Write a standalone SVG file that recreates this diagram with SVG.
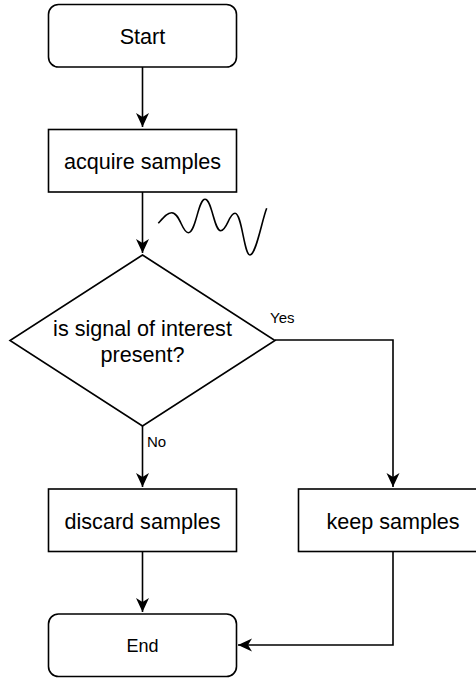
<svg xmlns="http://www.w3.org/2000/svg" width="476" height="679" viewBox="0 0 476 679">
<style>
.box{fill:#fff;stroke:#000;stroke-width:1.6}
.edge{fill:none;stroke:#000;stroke-width:1.6}
.t{font-family:"Liberation Sans",Arial,sans-serif;font-size:21.6px;fill:#000;text-anchor:middle}
.lbl{font-family:"Liberation Sans",Arial,sans-serif;font-size:15px;fill:#000}
</style>
<defs>
<marker id="arr" markerUnits="userSpaceOnUse" markerWidth="16" markerHeight="14" refX="14" refY="7" orient="auto">
<path d="M0,0.5 L14,7 L0,13.5 L4,7 Z" fill="#000"/>
</marker>
</defs>
<g id="connectors">
<path class="edge" d="M142.5,67 V127" marker-end="url(#arr)"/>
<path class="edge" d="M142.5,192 V253" marker-end="url(#arr)"/>
<path class="edge" d="M275,340 H393 V487" marker-end="url(#arr)"/>
<path class="edge" d="M142.5,426 V487" marker-end="url(#arr)"/>
<path class="edge" d="M142.5,551 V612" marker-end="url(#arr)"/>
<path class="edge" d="M393,551 V645 H238" marker-end="url(#arr)"/>
<text class="lbl" x="270" y="323">Yes</text>
<text class="lbl" x="147" y="447">No</text>
</g>
<g id="start">
<rect class="box" x="48.5" y="4.5" width="188" height="62.5" rx="10" ry="10"/>
<text class="t" x="142.5" y="43.5">Start</text>
</g>
<g id="acquire">
<rect class="box" x="48.5" y="129.5" width="188" height="62.5"/>
<text class="t" x="142.5" y="168.5">acquire samples</text>
</g>
<g id="wave">
<path class="edge" d="M158.3,223.3 C163,218 167,212.7 171.7,212.7 C180,212.7 182,232.7 188.3,232.7 C196,232.7 198,199.3 205,199.3 C212,199.3 214,230.7 220.7,230.7 C227,230.7 229,213.3 235,213.3 C242,213.3 244,255 250,255 C256,255 262,220 266.7,208.3"/>
</g>
<g id="decision">
<polygon class="box" points="142.5,255 275,340.5 142.5,426 10,340.5"/>
<text class="t" x="142.5" y="336">is signal of interest</text>
<text class="t" x="142.5" y="361.5">present?</text>
</g>
<g id="discard">
<rect class="box" x="48.5" y="489" width="188" height="62.5"/>
<text class="t" x="142.5" y="528.5">discard samples</text>
</g>
<g id="keep">
<rect class="box" x="298.5" y="489" width="190" height="62.5"/>
<text class="t" x="393" y="528.5">keep samples</text>
</g>
<g id="end">
<rect class="box" x="48.5" y="614" width="188" height="62.5" rx="10" ry="10"/>
<text class="t" x="142.5" y="652" style="font-size:18px">End</text>
</g>
</svg>
